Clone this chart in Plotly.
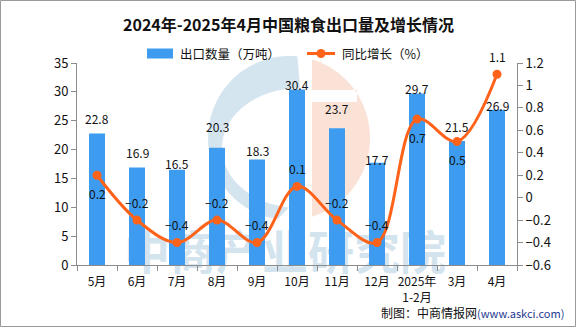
import numpy as np
import plotly.graph_objects as go

# ---- data ----
months = ["5月", "6月", "7月", "8月", "9月", "10月", "11月", "12月",
          "2025年<br>1-2月", "3月", "4月"]
export_volume = [22.8, 16.9, 16.5, 20.3, 18.3, 30.4, 23.7, 17.7, 29.7, 21.5, 26.9]
yoy_growth = [0.2, -0.2, -0.4, -0.2, -0.4, 0.1, -0.2, -0.4, 0.7, 0.5, 1.1]

# label placement (pixels above the bar top / side of the growth label)
bar_label_lift = [15, 15, 6, 21, 9, 5, 20, 3, 5, 14, 4]
growth_label_side = [-1, 1, 1, 1, 1, 1, 1, 1, -1, -1, 1]

# ---- canvas geometry ----
W, H = 576, 327
L, R, T, B = 77, 59, 63, 62
PW, PH = W - L - R, H - T - B

BAR = "#3d9cf0"
LINE = "#ff6219"
AXIS = "#8c8c8c"
FONT = "Noto Sans CJK SC"


def px(x):
    return (x - L) / PW


def py(y):
    return (H - B - y) / PH


def path_from(points):
    pts = [f"{px(x):.5f},{py(y):.5f}" for x, y in points]
    return "M" + " L".join(pts) + " Z"


def ellipse_pts(cx, cy, rx, ry, a0, a1, n=60):
    t = np.radians(np.linspace(a0, a1, n))
    return list(zip(cx + rx * np.cos(t), cy - ry * np.sin(t)))


fig = go.Figure()

fig.add_trace(go.Bar(
    x=months, y=export_volume, width=0.4,
    marker=dict(color=BAR, line=dict(width=0)),
    name="出口数量（万吨）", showlegend=False,
))

fig.add_trace(go.Scatter(
    x=months, y=yoy_growth, yaxis="y2",
    mode="lines+markers",
    line=dict(color=LINE, width=3, shape="spline", smoothing=1),
    marker=dict(color=LINE, size=9),
    name="同比增长（%）", showlegend=False,
))

annotations = []
for m, v, lift in zip(months, export_volume, bar_label_lift):
    annotations.append(dict(
        x=m, y=v, xref="x", yref="y", text=f"{v:.1f}", showarrow=False,
        yanchor="middle", yshift=lift,
        font=dict(family=FONT, size=12, color="#111"),
    ))
for m, v, side in zip(months, yoy_growth, growth_label_side):
    txt = f"{v:.1f}".replace("-", "−")
    annotations.append(dict(
        x=m, y=v, xref="x", yref="y2", text=txt, showarrow=False,
        yanchor="middle", yshift=18 * side,
        font=dict(family=FONT, size=12, color="#111"),
    ))

# title
annotations.append(dict(
    x=px(288), y=py(24), xref="paper", yref="paper",
    text="<b>2024年-2025年4月中国粮食出口量及增长情况</b>",
    showarrow=False, xanchor="center", yanchor="middle",
    font=dict(family=FONT, size=16, color="#111"),
))

# legend texts
annotations.append(dict(
    x=px(178), y=py(53.5), xref="paper", yref="paper",
    text="出口数量（万吨）", showarrow=False, xanchor="left", yanchor="middle",
    font=dict(family=FONT, size=12.5, color="#111"),
))
annotations.append(dict(
    x=px(340), y=py(53.5), xref="paper", yref="paper",
    text="同比增长（%）", showarrow=False, xanchor="left", yanchor="middle",
    font=dict(family=FONT, size=12.5, color="#111"),
))

# source note
annotations.append(dict(
    x=px(566), y=py(312), xref="paper", yref="paper",
    text="制图：中商情报网<span style='color:#1f3a8f;font-size:11px'>(www.askci.com)</span>",
    showarrow=False, xanchor="right", yanchor="middle",
    font=dict(family=FONT, size=12, color="#111"),
))

shapes = []

# faint logo watermark behind the bars
outer = dict(cx=289, cy=138, rx=81, ry=82)
blue_outer = ellipse_pts(outer["cx"], outer["cy"], outer["rx"], outer["ry"], 84, 262)
blue_inner = ellipse_pts(300, 148, 78, 60, 262, 90)
shapes.append(dict(
    type="path", xref="paper", yref="paper", layer="below",
    path=path_from(blue_outer + blue_inner),
    fillcolor="#d5e5f0", line=dict(width=0),
))
# pink right-hand part with a crossbar notch
dx = 312 - outer["cx"]
ang = np.degrees(np.arccos(dx / outer["rx"]))
pink_arc = ellipse_pts(outer["cx"], outer["cy"], outer["rx"], outer["ry"], ang, -ang)
pink = pink_arc + [(312, 102), (357, 102), (357, 90), (312, 90)]
shapes.append(dict(
    type="path", xref="paper", yref="paper", layer="below",
    path=path_from(pink),
    fillcolor="#fbe2d7", line=dict(width=0),
))
# watermark wordmark
shapes.append(dict(
    type="rect", xref="paper", yref="paper", layer="below",
    x0=px(114), x1=px(456), y0=py(274), y1=py(238),
    line=dict(width=0), fillcolor="rgba(0,0,0,0)",
    label=dict(text="<b>中商产业研究院</b>", textposition="middle center",
               font=dict(family=FONT, size=46, color="#d3e4ef")),
))

# legend swatches
shapes.append(dict(
    type="rect", xref="paper", yref="paper",
    x0=px(147), x1=px(173), y0=py(58.5), y1=py(48.5),
    fillcolor=BAR, line=dict(width=0),
))
shapes.append(dict(
    type="line", xref="paper", yref="paper",
    x0=px(307), x1=px(335), y0=py(53.5), y1=py(53.5),
    line=dict(color=LINE, width=3),
))
shapes.append(dict(
    type="circle", xref="paper", yref="paper",
    x0=px(316.5), x1=px(325.5), y0=py(58), y1=py(49),
    fillcolor=LINE, line=dict(width=0),
))

# outer frame
shapes.append(dict(
    type="rect", xref="paper", yref="paper",
    x0=px(0.5), x1=px(575.5), y0=py(326.5), y1=py(0.5),
    line=dict(color="#9a9a9a", width=1), fillcolor="rgba(0,0,0,0)",
))

axis_common = dict(
    showgrid=False, zeroline=False, showline=True,
    linecolor=AXIS, linewidth=1, ticks="outside", ticklen=5,
    tickcolor=AXIS, tickwidth=1,
    tickfont=dict(family=FONT, size=13, color="#111"),
)

fig.update_layout(
    width=W, height=H,
    margin=dict(l=L, r=R, t=T, b=B, pad=0),
    paper_bgcolor="white", plot_bgcolor="white",
    showlegend=False,
    xaxis=dict(
        type="category", range=[-0.5, 10.5], tickson="boundaries",
        tickangle=0, ticklabelstandoff=6,
        **{**axis_common, "tickfont": dict(family=FONT, size=12, color="#111")},
    ),
    yaxis=dict(range=[0, 35], dtick=5, tick0=0, **axis_common),
    yaxis2=dict(range=[-0.6, 1.2], dtick=0.2, tick0=-0.6,
                overlaying="y", side="right", **axis_common),
    annotations=annotations,
    shapes=shapes,
)

fig.write_html("out.html")
